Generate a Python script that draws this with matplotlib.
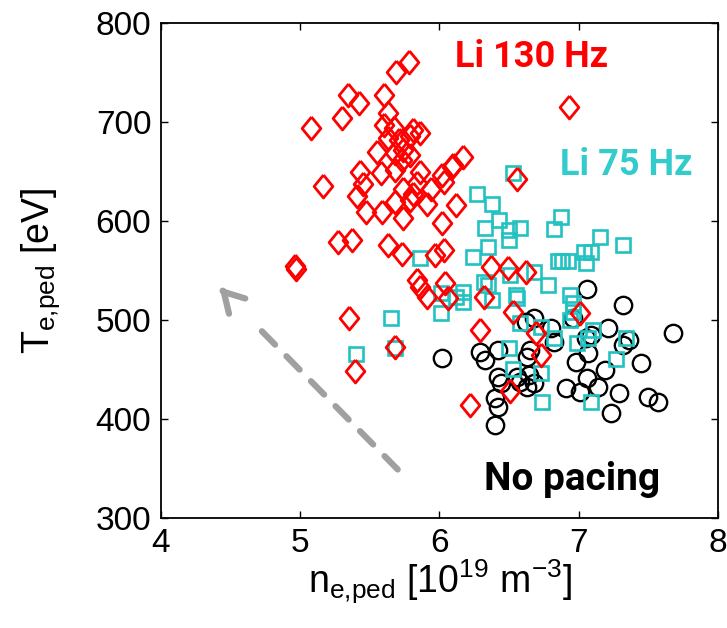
import matplotlib
matplotlib.use('Agg')
import matplotlib.pyplot as plt

plt.rcParams['font.family'] = ['Liberation Sans', 'DejaVu Sans']
plt.rcParams['mathtext.default'] = 'regular'

# Li 130 Hz (red diamonds)
li130_n = [5.78, 5.69, 5.34, 5.42, 5.60, 5.30, 5.08, 5.63, 5.60, 5.67,
           5.81, 5.79, 5.63, 5.71, 5.55, 5.68, 5.74, 5.79, 5.73, 5.43,
           5.58, 5.68, 5.86, 6.02, 6.09, 6.17, 5.16, 5.45, 5.41, 5.74,
           5.81, 5.94, 6.03, 5.84, 5.47, 5.59, 5.68, 5.79, 5.91, 5.74,
           6.02, 6.12, 6.10, 5.27, 5.37, 5.63, 5.73, 5.97, 6.03, 4.96,
           6.93, 6.56, 5.86, 6.37, 6.49, 6.62, 5.84, 5.86, 5.91, 6.04,
           6.06, 6.32, 5.35, 5.39, 5.68, 6.53, 6.29, 6.69, 7.01, 6.73,
           6.51, 6.22, 4.97]
li130_T = [761, 750, 727, 719, 727, 704, 694, 709, 697, 694,
           692, 686, 684, 682, 670, 669, 672, 667, 662, 649,
           648, 652, 649, 646, 655, 665, 635, 637, 625, 632,
           627, 632, 639, 638, 609, 609, 619, 621, 617, 603,
           598, 616, 657, 579, 581, 576, 567, 566, 571, 555,
           715, 642, 689, 554, 552, 548, 540, 533, 523, 537,
           522, 523, 502, 448, 473, 508, 490, 487, 507, 465,
           428, 414, 551]

# Li 75 Hz (cyan squares)
li75_n = [6.53, 6.27, 6.38, 6.43, 6.33, 6.58, 6.50, 6.50, 6.87, 6.82,
          7.15, 7.32, 6.35, 6.24, 7.04, 7.09, 7.05, 6.85, 6.88, 6.92,
          6.68, 6.51, 6.32, 6.78, 6.94, 6.55, 6.17, 6.12, 5.86, 5.65,
          5.40, 5.68, 6.01, 6.17, 6.01, 6.35, 6.38, 6.56, 6.96, 6.96,
          6.94, 6.58, 6.73, 6.82, 6.99, 7.07, 7.10, 7.34, 6.50, 6.53,
          6.73, 7.27, 6.74, 7.09]
li75_T = [648, 627, 617, 601, 593, 593, 591, 581, 604, 592,
          584, 576, 574, 564, 569, 569, 558, 560, 560, 560,
          548, 545, 538, 535, 525, 525, 528, 523, 563, 502,
          466, 472, 527, 518, 507, 535, 520, 522, 517, 508,
          500, 497, 493, 482, 477, 482, 490, 482, 472, 450,
          446, 461, 417, 417]

# No pacing (black circles)
nopace_n = [7.06, 7.32, 7.68, 6.02, 6.29, 6.33, 6.42, 6.62, 6.68, 6.80,
            6.82, 7.21, 7.36, 7.32, 7.05, 7.09, 7.07, 6.98, 7.19, 7.45,
            6.65, 6.63, 6.42, 6.44, 6.40, 6.42, 6.40, 6.56, 6.58, 6.64,
            6.68, 6.91, 7.01, 7.06, 7.14, 7.29, 7.23, 7.50, 7.57, 6.96,
            6.63]
nopace_T = [531, 515, 487, 462, 468, 460, 470, 498, 502, 492,
            478, 492, 480, 475, 482, 485, 467, 458, 449, 457,
            470, 463, 442, 436, 421, 412, 394, 442, 437, 444,
            436, 431, 427, 441, 432, 426, 406, 422, 417, 502,
            432]

red = '#FF0000'
cyan = '#22C2C2'
diamond = [(0, 1), (0.82, 0), (0, -1), (-0.82, 0), (0, 1)]

fig = plt.figure(figsize=(7.27, 6.28), dpi=100)
ax = fig.add_axes([0.2215, 0.1752, 0.766, 0.7882])

ax.plot(nopace_n, nopace_T, 'o', mfc='none', mec='black', ms=12.5, mew=1.7, ls='none')
ax.plot(li75_n, li75_T, 's', mfc='none', mec=cyan, ms=9.5, mew=1.9, ls='none')
ax.plot(li130_n, li130_T, marker=diamond, mfc='none', mec=red, ms=16.5, mew=2.0, ls='none')

# dashed trend arrow
tail = (5.70, 349)
head = (4.42, 533)
neck = (4.68, 495)
ax.annotate('', xy=neck, xytext=tail,
            arrowprops=dict(arrowstyle='-', color='#A0A0A0', lw=4.5,
                            linestyle=(0, (3.0, 2.6)), shrinkA=0, shrinkB=0))
ax.annotate('', xy=head, xytext=(4.45, 528.5),
            arrowprops=dict(arrowstyle='->,head_length=1.4,head_width=0.8',
                            color='#A0A0A0', lw=4.5, shrinkA=0, shrinkB=0))

ax.text(6.66, 766, 'Li 130 Hz', color=red, fontsize=26, fontweight='bold',
        family='Roboto', ha='center', va='center')
ax.text(7.345, 657, 'Li 75 Hz', color='#33CCCC', fontsize=26, fontweight='bold',
        family='Roboto', ha='center', va='center')
ax.text(6.95, 339, 'No pacing', color='black', fontsize=28, fontweight='bold',
        family='Roboto', ha='center', va='center')

ax.set_xlim(4, 8)
ax.set_ylim(300, 800)
ax.set_xticks([4, 5, 6, 7, 8])
ax.set_yticks([300, 400, 500, 600, 700, 800])
ax.tick_params(direction='in', length=5, width=1, top=True, right=True,
               labelsize=24, pad=7)
for sp in ax.spines.values():
    sp.set_linewidth(1.3)

ax.set_xlabel(r'$n_{e{,}ped}$ [$10^{19}$ $m^{-3}$]', fontsize=27, va='center')
ax.set_ylabel(r'$T_{e{,}ped}$ [eV]', fontsize=27, va='center')
ax.xaxis.set_label_coords(0.5, -0.13)
ax.yaxis.set_label_coords(-0.217, 0.5)

fig.savefig('out.png', dpi=100, facecolor='white')
